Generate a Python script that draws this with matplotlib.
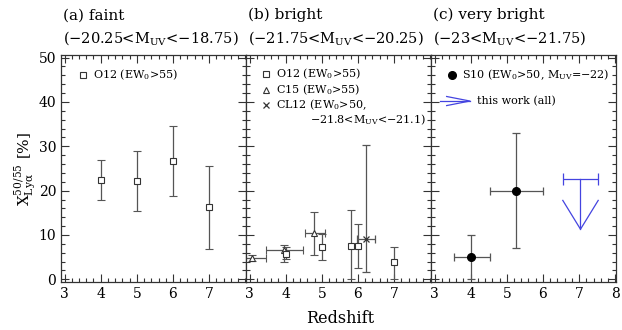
import matplotlib
matplotlib.use("Agg")
import matplotlib.pyplot as plt
from matplotlib.ticker import MultipleLocator

plt.rcParams['font.family'] = ['DejaVu Serif']
plt.rcParams['mathtext.fontset'] = 'dejavuserif'

# (a) faint : O12 (EW0>55)
A_Z = [4, 5, 6, 7]
A_X = [22.5, 22.2, 26.7, 16.2]
A_LO = [17.9, 15.3, 18.8, 6.8]
A_HI = [27.0, 29.0, 34.6, 25.5]

# (b) bright : O12
B_O12_Z = [4.0, 5.0, 5.8, 6.0, 7.0]
B_O12_X = [5.6, 7.2, 7.5, 7.5, 3.8]
B_O12_LO = [4.6, 4.4, 0.0, 2.5, 0.0]
B_O12_HI = [7.3, 10.2, 15.7, 12.4, 7.4]
# (b) bright : C15
B_C15_Z = [3.07, 3.96, 4.78]
B_C15_ZLO = [2.9, 3.45, 4.53]
B_C15_ZHI = [3.45, 4.47, 5.08]
B_C15_X = [4.8, 6.6, 10.4]
B_C15_LO = [4.1, 3.8, 5.4]
B_C15_HI = [5.5, 7.8, 15.2]
# (b) bright : CL12
B_CL12_Z = [6.23]
B_CL12_ZLO = [5.98]
B_CL12_ZHI = [6.48]
B_CL12_X = [9.2]
B_CL12_LO = [1.6]
B_CL12_HI = [30.2]

# (c) very bright : S10
C_S10_Z = [4.02, 5.26]
C_S10_ZLO = [3.53, 4.53]
C_S10_ZHI = [4.54, 5.99]
C_S10_X = [5.0, 20.0]
C_S10_LO = [0.0, 7.0]
C_S10_HI = [10.0, 33.0]
# (c) this work : upper limit
C_TW_Z = 7.04
C_TW_ZLO = 6.55
C_TW_ZHI = 7.53
C_TW_UL = 22.6

TITLES = ['(a) faint', '(b) bright', '(c) very bright']
SUBTITLES = [r'($-$20.25<M$_{\rm UV}$<$-$18.75)',
             r'($-$21.75<M$_{\rm UV}$<$-$20.25)',
             r'($-$23<M$_{\rm UV}$<$-$21.75)']

BLK = '#333333'
ERR = '#555555'
BLUE = '#4444e0'
LEGFS = 8


def yerr(x, lo, hi):
    return [[v - l for v, l in zip(x, lo)], [h - v for v, h in zip(x, hi)]]


def xerr(z, lo, hi):
    return [[v - l for v, l in zip(z, lo)], [h - v for v, h in zip(z, hi)]]


fig = plt.figure(figsize=(6.22, 3.30), dpi=100)
axes = []
for i in range(3):
    ax = fig.add_axes([0.098 + i * 0.2974, 0.1455, 0.2974, 0.688])
    ax.set_xlim(2.9, 8.02)
    ax.set_ylim(-0.6, 50.6)
    ax.xaxis.set_major_locator(MultipleLocator(1))
    ax.xaxis.set_minor_locator(MultipleLocator(0.2))
    ax.yaxis.set_major_locator(MultipleLocator(10))
    ax.yaxis.set_minor_locator(MultipleLocator(2))
    ax.tick_params(which='both', direction='in', top=True, right=True,
                   width=0.8, color=BLK, labelsize=10)
    ax.tick_params(which='major', length=6)
    ax.tick_params(which='minor', length=3)
    for s in ax.spines.values():
        s.set_linewidth(0.9)
        s.set_color(BLK)
    if i < 2:
        ax.set_xticks([3, 4, 5, 6, 7])
    else:
        ax.set_xticks([3, 4, 5, 6, 7, 8])
    if i > 0:
        ax.set_yticklabels([])
    ax.text(0.01, 1.175, TITLES[i], transform=ax.transAxes, fontsize=11,
            ha='left', va='center')
    ax.text(0.01, 1.075, SUBTITLES[i], transform=ax.transAxes, fontsize=10.5,
            ha='left', va='center')
    axes.append(ax)

eb = dict(ecolor=ERR, elinewidth=0.9, capsize=3, capthick=0.9, linestyle='none')

# panel a
ax = axes[0]
ax.errorbar(A_Z, A_X, yerr=yerr(A_X, A_LO, A_HI), marker='s', ms=5,
            mfc='white', mec=BLK, mew=0.8, **eb)
ax.plot([0.119], [0.912], 's', ms=5, mfc='white', mec=BLK, mew=0.8,
        transform=ax.transAxes)
ax.text(0.172, 0.912, r'O12 (EW$_0$>55)', transform=ax.transAxes,
        fontsize=LEGFS, va='center')
ax.set_ylabel(r'X$^{50/55}_{\rm Ly\alpha}$ [%]', fontsize=11, labelpad=0)

# panel b
ax = axes[1]
ax.errorbar(B_C15_Z, B_C15_X, xerr=xerr(B_C15_Z, B_C15_ZLO, B_C15_ZHI),
            yerr=yerr(B_C15_X, B_C15_LO, B_C15_HI), marker='^', ms=5,
            mfc='white', mec=BLK, mew=0.8, **eb)
ax.errorbar(B_O12_Z, B_O12_X, yerr=yerr(B_O12_X, B_O12_LO, B_O12_HI),
            marker='s', ms=5, mfc='white', mec=BLK, mew=0.8, **eb)
ax.errorbar(B_CL12_Z, B_CL12_X, xerr=xerr(B_CL12_Z, B_CL12_ZLO, B_CL12_ZHI),
            yerr=yerr(B_CL12_X, B_CL12_LO, B_CL12_HI), marker='x', ms=4,
            mec=BLK, mew=0.9, **eb)
leg_y = [0.916, 0.846, 0.78]
ax.plot([0.108], [leg_y[0]], 's', ms=5, mfc='white', mec=BLK, mew=0.8,
        transform=ax.transAxes)
ax.plot([0.108], [leg_y[1]], '^', ms=5, mfc='white', mec=BLK, mew=0.8,
        transform=ax.transAxes)
ax.plot([0.108], [leg_y[2]], 'x', ms=4, mec=BLK, mew=0.9,
        transform=ax.transAxes)
ax.text(0.16, leg_y[0], r'O12 (EW$_0$>55)', transform=ax.transAxes,
        fontsize=LEGFS, va='center')
ax.text(0.16, leg_y[1], r'C15 (EW$_0$>55)', transform=ax.transAxes,
        fontsize=LEGFS, va='center')
ax.text(0.16, leg_y[2], r'CL12 (EW$_0$>50,', transform=ax.transAxes,
        fontsize=LEGFS, va='center')
ax.text(0.345, 0.714, r'$-$21.8<M$_{\rm UV}$<$-$21.1)', transform=ax.transAxes,
        fontsize=LEGFS, va='center')

# panel c
ax = axes[2]
ax.errorbar(C_S10_Z, C_S10_X, xerr=xerr(C_S10_Z, C_S10_ZLO, C_S10_ZHI),
            yerr=yerr(C_S10_X, C_S10_LO, C_S10_HI), marker='o', ms=5.5,
            mfc='black', mec='black', **eb)
# upper limit with open arrow
ax.errorbar([C_TW_Z], [C_TW_UL], xerr=[[C_TW_Z - C_TW_ZLO], [C_TW_ZHI - C_TW_Z]],
            ecolor=BLUE, elinewidth=0.9, capsize=4, capthick=0.9, linestyle='none')
tip = C_TW_UL - 11.3
head = C_TW_UL - 4.8
ax.plot([C_TW_Z, C_TW_Z], [C_TW_UL, tip], color=BLUE, lw=0.9)
ax.plot([C_TW_ZLO, C_TW_Z, C_TW_ZHI], [head, tip, head], color=BLUE, lw=0.9)
ax.plot([0.114], [0.912], 'o', ms=5.5, color='black', transform=ax.transAxes)
ax.text(0.17, 0.912, r'S10 (EW$_0$>50, M$_{\rm UV}$=$-$22)',
        transform=ax.transAxes, fontsize=LEGFS, va='center')
ax.plot([0.049, 0.211], [0.797, 0.797], color=BLUE, lw=0.9,
        transform=ax.transAxes)
ax.plot([0.085, 0.211, 0.085], [0.817, 0.797, 0.777], color=BLUE, lw=0.9,
        transform=ax.transAxes)
ax.text(0.249, 0.797, 'this work (all)', transform=ax.transAxes,
        fontsize=LEGFS, va='center')

fig.text(0.547, 0.035, 'Redshift', ha='center', va='center', fontsize=11.5)

fig.savefig('out.png', dpi=100)
